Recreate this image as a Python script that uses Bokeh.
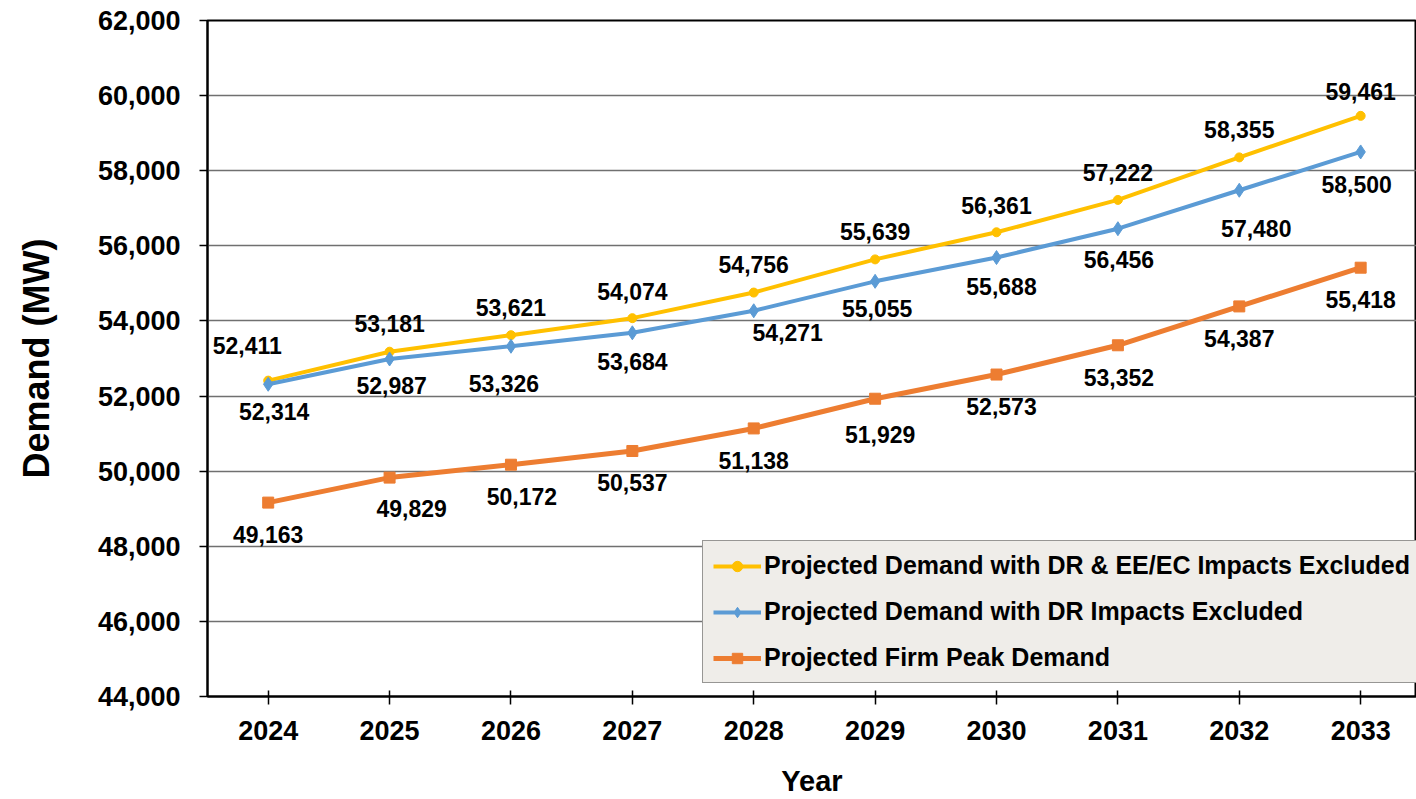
from bokeh.plotting import figure
from bokeh.models import (ColumnDataSource, Range1d, FixedTicker, NumeralTickFormatter,
                          Legend, LegendItem)
from bokeh.core.properties import value
from bokeh.embed import file_html
from bokeh.resources import INLINE

years = ["2024", "2025", "2026", "2027", "2028", "2029", "2030", "2031", "2032", "2033"]
demand_excl_dr_ee = [52411, 53181, 53621, 54074, 54756, 55639, 56361, 57222, 58355, 59461]
demand_excl_dr = [52314, 52987, 53326, 53684, 54271, 55055, 55688, 56456, 57480, 58500]
firm_peak = [49163, 49829, 50172, 50537, 51138, 51929, 52573, 53352, 54387, 55418]
y_ticks = [44000, 46000, 48000, 50000, 52000, 54000, 56000, 58000, 60000, 62000]

series_names = ["Projected Demand with DR & EE/EC Impacts Excluded",
                "Projected Demand with DR Impacts Excluded",
                "Projected Firm Peak Demand"]

# label offsets (screen px) for data labels
off_yellow = [(-21, -35), (0, -28), (0, -28), (0, -27), (0, -28), (0, -28), (0, -27), (0, -27), (0, -28), (0, -24)]
off_blue = [(6, 27), (2, 27), (-7, 37), (0, 29), (34, 22), (2, 27), (5, 29), (1, 31), (17, 38), (-4, 33)]
off_orange = [(0, 32), (22, 31), (11, 32), (0, 32), (0, 32), (5, 36), (5, 32), (1, 32), (0, 32), (0, 32)]

YELLOW = "#FFC000"
BLUE = "#5B9BD5"
ORANGE = "#ED7D31"
NUM_FONT = "Liberation Sans"
TXT_FONT = "Liberation Sans"

xs = list(range(len(years)))

p = figure(width=1416, height=799, output_backend="svg", toolbar_location=None,
           x_range=Range1d(-0.5, 9.46), y_range=Range1d(44000, 62000),
           min_border_left=207, min_border_right=0, min_border_top=20, min_border_bottom=102)
p.background_fill_color = "white"
p.border_fill_color = "white"
p.outline_line_color = "black"
p.outline_line_width = 2

p.xgrid.visible = False
p.ygrid.grid_line_color = "#707070"
p.ygrid.grid_line_width = 1.3
p.ygrid.ticker = FixedTicker(ticks=y_ticks)

# axes
p.yaxis.ticker = FixedTicker(ticks=y_ticks)
p.yaxis.formatter = NumeralTickFormatter(format="0,0")
p.yaxis.major_tick_out = 8
p.yaxis.major_tick_in = 0
p.yaxis.minor_tick_out = 0
p.yaxis.minor_tick_in = 0
p.yaxis.axis_line_width = 2
p.yaxis.axis_line_color = "black"
p.yaxis.major_tick_line_width = 1.5
p.yaxis.major_label_standoff = 19
p.yaxis.major_label_text_font = NUM_FONT
p.yaxis.major_label_text_font_style = "bold"
p.yaxis.major_label_text_font_size = "27px"
p.yaxis.major_label_text_color = "black"
p.yaxis.axis_label = "Demand (MW)"
p.yaxis.axis_label_text_font = TXT_FONT
p.yaxis.axis_label_text_font_style = "bold"
p.yaxis.axis_label_text_font_size = "36px"
p.yaxis.axis_label_text_color = "black"
p.yaxis.axis_label_standoff = 38

p.xaxis.ticker = FixedTicker(ticks=xs)
p.xaxis.major_label_overrides = {i: y for i, y in zip(xs, years)}
p.xaxis.major_tick_out = 8
p.xaxis.major_tick_in = 6
p.xaxis.minor_tick_out = 0
p.xaxis.minor_tick_in = 0
p.xaxis.axis_line_width = 2
p.xaxis.axis_line_color = "black"
p.xaxis.major_tick_line_width = 1.5
p.xaxis.major_label_standoff = 16
p.xaxis.major_label_text_font = NUM_FONT
p.xaxis.major_label_text_font_style = "bold"
p.xaxis.major_label_text_font_size = "27px"
p.xaxis.major_label_text_color = "black"
p.xaxis.axis_label = "Year"
p.xaxis.axis_label_text_font = TXT_FONT
p.xaxis.axis_label_text_font_style = "bold"
p.xaxis.axis_label_text_font_size = "29px"
p.xaxis.axis_label_text_color = "black"
p.xaxis.axis_label_standoff = 22

items = []
specs = [
    (demand_excl_dr_ee, YELLOW, "circle", 9, 4, off_yellow),
    (demand_excl_dr, BLUE, "diamond", 14, 4, off_blue),
    (firm_peak, ORANGE, "square", 11, 5, off_orange),
]
for name, (vals, col, marker, msize, lw, offs) in zip(series_names, specs):
    src = ColumnDataSource(dict(
        x=xs, y=vals,
        label=[f"{v:,}" for v in vals],
        dx=[o[0] for o in offs], dy=[o[1] for o in offs],
    ))
    r1 = p.line("x", "y", source=src, line_color=col, line_width=lw)
    r2 = p.scatter("x", "y", source=src, marker=marker, size=msize,
                   fill_color=col, line_color=col)
    p.text("x", "y", text="label", source=src, x_offset="dx", y_offset="dy",
           text_align="center", text_baseline="middle",
           text_font=value(NUM_FONT), text_font_style="bold",
           text_font_size="23px", text_color="black")
    items.append(LegendItem(label=name, renderers=[r1, r2]))

legend = Legend(items=items, location=(495, 13))
legend.background_fill_color = "#EFEDE9"
legend.background_fill_alpha = 1
legend.border_line_color = "#404040"
legend.border_line_width = 1.5
legend.label_text_font = TXT_FONT
legend.label_text_font_style = "bold"
legend.label_text_font_size = "25px"
legend.label_text_color = "black"
legend.glyph_width = 48
legend.glyph_height = 26
legend.label_height = 26
legend.label_standoff = 3
legend.spacing = 17
legend.padding = 10
legend.margin = 0
p.add_layout(legend, "center")

open("out.html", "w").write(file_html(p, INLINE))
